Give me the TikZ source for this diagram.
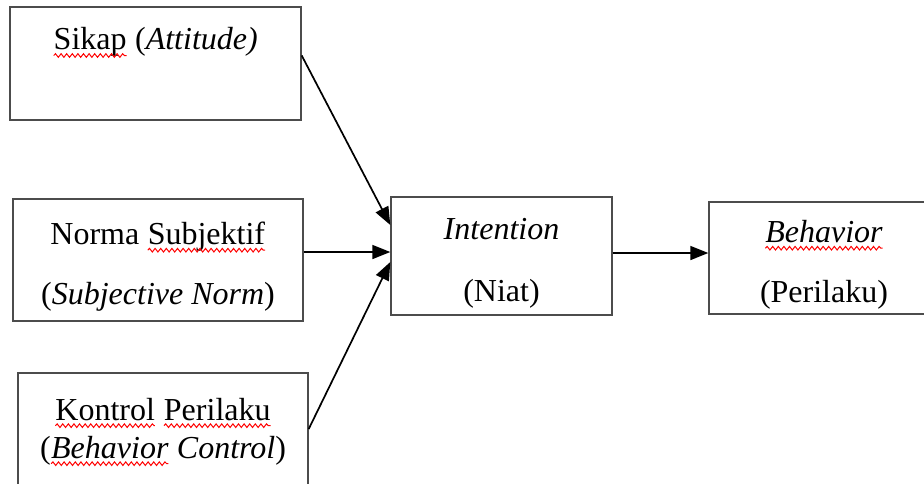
\documentclass[tikz,border=0pt]{standalone}
\usepackage{fontspec}
\setmainfont{Liberation Serif}
\usepackage{tikz}
\usetikzlibrary{positioning,arrows.meta,decorations.pathmorphing}

% red spell-check wave under a word
\newcommand{\spellerr}[1]{\tikz[baseline=(w.base)]{%
  \node[draw=none, fill=none, inner sep=0pt, outer sep=0pt,
        minimum width=0pt, minimum height=0pt] (w) {#1};
  \draw[red, line width=0.5pt, decorate,
        decoration={snake, amplitude=0.9pt, segment length=2.8pt}]
    ([yshift=-2.8pt]w.base west) -- ([yshift=-2.8pt]w.base east);}}
% extra room above the first line
\newcommand{\toppad}{\rule{0pt}{18pt}}

\tikzset{
  box/.style={draw=black!70, line width=0.7pt, align=center, inner sep=0pt},
  flow/.style={-{Triangle[length=9pt,width=7pt]}, line width=0.85pt},
}

\begin{document}
\begin{tikzpicture}[x=0.5pt,y=-0.5pt,font=\fontsize{16}{19}\selectfont]
\useasboundingbox (0,0) rectangle (924,483);

% the three factors
\node[box, minimum width=145.5pt, minimum height=56.5pt] (att) at (155.5,63.5)
  {\spellerr{Sikap} (\textit{Attitude)}\\[5.7pt]~};
\node[box, minimum width=145pt, minimum height=61pt] (norm) at (158,260)
  {\toppad Norma \spellerr{Subjektif}\\[11pt](\textit{Subjective Norm})};
\node[box, minimum width=145pt, minimum height=56pt] (ctrl) at (163,429)
  {\rule{0pt}{14pt}\spellerr{Kontrol} \spellerr{Perilaku}\\[0pt](\textit{\spellerr{Behavior} Control})};

% intention and behaviour
\node[box, minimum width=110.5pt, minimum height=59pt] (int) at (501.5,256)
  {\toppad\textit{Intention}\\[12pt](Niat)};
\node[box, minimum width=115pt, minimum height=56pt] (beh) at (824,258)
  {\toppad\textit{\spellerr{Behavior}}\\[11pt](Perilaku)};

% arrows
\draw[flow] ([yshift=4pt]att.east) -- ([yshift=15.5pt]int.west);
\draw[flow] ([yshift=4pt]norm.east) -- ([yshift=2pt]int.west);
\draw[flow] (ctrl.east) -- ([yshift=-3pt]int.west);
\draw[flow] ([yshift=1.5pt]int.east) -- ([yshift=1.5pt]int.east -| beh.west);

\end{tikzpicture}
\end{document}
